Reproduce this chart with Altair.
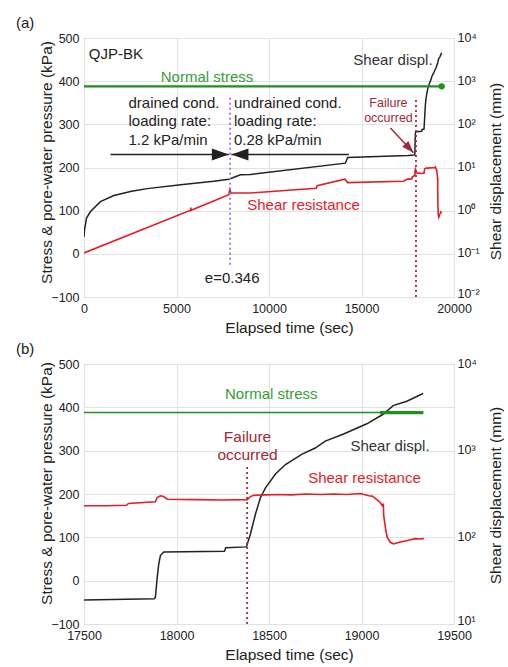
import altair as alt
import pandas as pd

FONT = "Liberation Sans"

# ---------------- data ----------------
# Shear displacement (mm) vs elapsed time (s)
time_disp = [0, 30, 135, 350, 890, 1610, 2570, 3420, 5220, 7020,
             7830, 8460, 9000, 14130, 14250, 17500, 17880, 17886, 17896, 17904,
             17913, 17931, 18259, 18266, 18378, 18400, 18427, 18454, 18481, 18535,
             18589, 18679, 18750, 18804, 18900, 19029, 19117, 19171, 19245, 19333]
shear_disp = [0.245, 0.363, 0.676, 0.955, 1.62, 2.24, 2.82, 3.24, 3.98, 4.79,
              5.37, 6.76, 6.92, 12.6, 17.0, 18.9, 19.5, 20.4, 34.7, 49.0,
              61.7, 67.6, 69.2, 75.9, 77.6, 110, 186, 288, 372, 537,
              692, 912, 1072, 1288, 1549, 2042, 2630, 3311, 3715, 4571]

# Shear resistance (kPa) vs elapsed time (s)
time_res = [0, 5760, 5775, 5790, 7830, 7880, 7950, 9000, 12550, 12600,
            14100, 14250, 17260, 17500, 17620, 17730, 17740, 17886, 17896, 17913,
            17931, 17950, 18100, 18250, 18382, 18400, 18418, 18480, 18550, 18620,
            18700, 18780, 18850, 18920, 18993, 19040, 19060, 19080, 19100, 19112,
            19118, 19120, 19130, 19139, 19157, 19173, 19200, 19230, 19260, 19290,
            19310, 19337]
shear_res = [2, 101, 107, 101, 137, 149, 141, 141, 152, 158,
             173, 165, 168, 173, 173, 174, 178, 182, 192, 196,
             194, 188, 187, 186, 187, 194, 197, 198, 199, 198,
             200, 199, 200, 199, 201, 196, 195, 188, 181, 173,
             178, 150, 120, 100, 88, 85, 88, 91, 94, 97,
             96, 97]

# Normal stress (kPa)
time_normal = [0, 17500, 19100, 19334]
normal_stress = [388, 388, 388, 388]

x_ticks_a = [0, 5000, 10000, 15000, 20000]
x_ticks_b = [17500, 18000, 18500, 19000, 19500]
y_ticks_left = [-100, 0, 100, 200, 300, 400, 500]
y_ticks_right_a = [0.01, 0.1, 1, 10, 100, 1000, 10000]
y_ticks_right_b = [10, 100, 1000, 10000]

disp_df = pd.DataFrame({"t": time_disp, "d": shear_disp})
res_df = pd.DataFrame({"t": time_res, "v": shear_res})
ns_df = pd.DataFrame({"t": time_normal, "v": normal_stress})

GREEN = "#1f8f1f"
GREEN_T = "#34a034"
RED = "#e41e26"
BLACK = "#222222"
DARKRED = "#9e2a3a"
PURPLE = "#a070e0"

LOG_LABEL = ("datum.value < 0.05 ? '10⁻²' : datum.value < 0.5 ? '10⁻¹' : "
             "datum.value < 5 ? '10⁰' : datum.value < 50 ? '10¹' : "
             "datum.value < 500 ? '10²' : datum.value < 5000 ? '10³' : '10⁴'")

RIGHT_HEAD = "M-2,-0.7L0,0L-2,0.7Z"
LEFT_HEAD = "M2,-0.7L0,0L2,0.7Z"


def panel(xdom, xvals, rdom, rvals, tmin, H, title, texts_left, texts_center, rules,
          extra_layers, ltitle_y, rtitle_y, green_w):
    xs = alt.Scale(domain=xdom, nice=False, zero=False)
    ys = alt.Scale(domain=[-100, 500], nice=False, zero=False)
    xax = alt.Axis(values=xvals, format="d", title="Elapsed time (sec)", grid=True,
                   labelPadding=5, labelFlush=False, titleX=205, titleY=30,
                   titleBaseline="middle")
    yax = alt.Axis(values=y_ticks_left, title="Stress & pore-water pressure (kPa)", grid=True,
                   labelPadding=5, labelFlush=False, titleX=-38, titleY=ltitle_y,
                   titleAngle=270, titleAlign="center", titleBaseline="middle")
    X = alt.X("t:Q", scale=xs, axis=xax)
    Y = alt.Y("v:Q", scale=ys, axis=yax)

    low = rdom[0] * 1.01
    black = alt.Chart(disp_df).transform_filter(alt.datum.t >= tmin).mark_line(
        color=BLACK, strokeWidth=1.5, clip=True).encode(
        x=X,
        y=alt.Y("d:Q", scale=alt.Scale(type="log", domain=rdom, nice=False),
                axis=alt.Axis(orient="right", values=rvals, labelExpr=LOG_LABEL,
                              grid=False, labelFlush=False, title="Shear displacement (mm)",
                              labelPadding=3, titleX=41, titleY=rtitle_y,
                              labelOffset={"condition": {"test": f"datum.value <= {low}",
                                                         "value": -4},
                                           "value": -1},
                              titleAngle=270, titleAlign="center",
                              titleBaseline="middle")))

    red = alt.Chart(res_df).transform_filter(alt.datum.t >= tmin).mark_line(
        color=RED, strokeWidth=1.6, clip=True).encode(x=X, y=Y)

    green = alt.Chart(ns_df).transform_filter(alt.datum.t >= tmin).mark_line(
        color=GREEN, strokeWidth=green_w, clip=True).encode(x=X, y=Y)

    layers = [red, green]

    rule_df = pd.DataFrame(rules)
    layers.append(alt.Chart(rule_df).mark_rule(strokeDash=[2, 3], strokeWidth=1.8).encode(
        x=X, y=Y, y2="v2:Q", color=alt.Color("c:N", scale=None)))

    layers += [lay(X, Y) for lay in extra_layers]

    if texts_left["t"]:
        tl = pd.DataFrame(texts_left)
        layers.append(alt.Chart(tl).mark_text(align="left", baseline="middle", font=FONT).encode(
            x=X, y=Y, text="text:N", color=alt.Color("c:N", scale=None),
            size=alt.Size("s:Q", scale=None)))
    tc = pd.DataFrame(texts_center)
    layers.append(alt.Chart(tc).mark_text(align="center", baseline="middle", font=FONT).encode(
        x=X, y=Y, text="text:N", color=alt.Color("c:N", scale=None),
        size=alt.Size("s:Q", scale=None)))

    left = alt.layer(*layers)
    return alt.layer(black, left).resolve_scale(y="independent").properties(
        width=370, height=H,
        title=alt.TitleParams(title, anchor="start", frame="group", dx=-68,
                              fontSize=15, fontWeight="normal", font=FONT,
                              color="#222222", offset=0))


# ---------------- panel (a) annotations ----------------
a_left = {"t": [260, 2405, 2405, 2405, 8108, 8108, 8108],
          "v": [464, 349, 307, 264, 349, 307, 264],
          "text": ["QJP-BK", "drained cond.", "loading rate:", "1.2 kPa/min",
                   "undrained cond.", "loading rate:", "0.28 kPa/min"],
          "c": ["#222222"] * 7, "s": [15] * 7}
a_center = {"t": [6650, 16701, 11864, 8010, 16458, 16458],
            "v": [410, 450, 114, -56, 350, 315],
            "text": ["Normal stress", "Shear displ.", "Shear resistance", "e=0.346",
                     "Failure", "occurred"],
            "c": [GREEN_T, "#333333", RED, "#222222", DARKRED, DARKRED],
            "s": [15, 15, 15, 15, 12.5, 12.5]}
a_rules = {"t": [7900, 17945], "v": [-25, -100], "v2": [362, 361], "c": [PURPLE, DARKRED]}


def a_extras():
    shafts = pd.DataFrame({"t": [1432, 7970], "t2": [7830, 14313], "v": [230, 230]})
    heads = pd.DataFrame({"t": [7830, 7970], "v": [230, 230], "shape": [RIGHT_HEAD, LEFT_HEAD]})
    fail = pd.DataFrame({"t": [16564], "t2": [17810], "v": [291.5], "v2": [234.3]})
    fail_head = pd.DataFrame({"t": [17810], "v": [234.3]})
    end_dot = ns_df.iloc[[-1]]

    def f1(x, y):
        return alt.Chart(shafts).mark_rule(color=BLACK, strokeWidth=1.5).encode(x=x, x2="t2:Q", y=y)

    def f2(x, y):
        return alt.Chart(heads).mark_point(filled=True, size=289, color=BLACK, opacity=1).encode(
            x=x, y=y, shape=alt.Shape("shape:N", scale=None))

    def f3(x, y):
        return alt.Chart(fail).mark_rule(color=DARKRED, strokeWidth=1.5).encode(
            x=x, x2="t2:Q", y=y, y2="v2:Q")

    def f4(x, y):
        return alt.Chart(fail_head).mark_point(filled=True, size=144, color=DARKRED, opacity=1,
                                               shape=RIGHT_HEAD, angle=47).encode(x=x, y=y)

    def f5(x, y):
        return alt.Chart(end_dot).mark_point(filled=True, size=40, color=GREEN, opacity=1).encode(x=x, y=y)

    return [f1, f2, f3, f4, f5]


# ---------------- panel (b) annotations ----------------
b_left = {"t": [], "v": [], "text": [], "c": [], "s": []}
b_center = {"t": [18512, 19154, 19016, 18384, 18384],
            "v": [431.5, 311.5, 238, 332, 291],
            "text": ["Normal stress", "Shear displ.", "Shear resistance", "Failure", "occurred"],
            "c": [GREEN_T, "#333333", RED, DARKRED, DARKRED],
            "s": [15, 15, 15, 15.5, 15.5]}
b_rules = {"t": [18382], "v": [-100], "v2": [265], "c": [DARKRED]}


def b_extras():
    def g1(x, y):
        return alt.Chart(ns_df).transform_filter(alt.datum.t >= 19100).mark_line(
            color=GREEN, strokeWidth=3.2).encode(x=x, y=y)
    return [g1]


pa = panel([0, 20000], x_ticks_a, [0.01, 10000], y_ticks_right_a, 0, 259, "(a)",
           a_left, a_center, a_rules, a_extras(), 124, 133, 2.4)
pb = panel([17500, 19500], x_ticks_b, [10, 10000], y_ticks_right_b, 17500, 260, "(b)",
           b_left, b_center, b_rules, b_extras(), 119, 131, 1.6)

chart = alt.vconcat(pa, pb, spacing=5).properties(
    padding={"left": 15, "top": 15, "right": 0, "bottom": 0}
).configure_axis(
    labelFont=FONT, titleFont=FONT, labelFontSize=12.5, titleFontSize=15.5,
    labelColor="#222222", titleColor="#222222", titleFontWeight="normal",
    gridColor="#e2e2e2", domain=False, ticks=False
).configure_view(stroke="#8a8a8a", strokeWidth=1)

chart.save("out.html", embed_options={"renderer": "svg", "actions": False})
